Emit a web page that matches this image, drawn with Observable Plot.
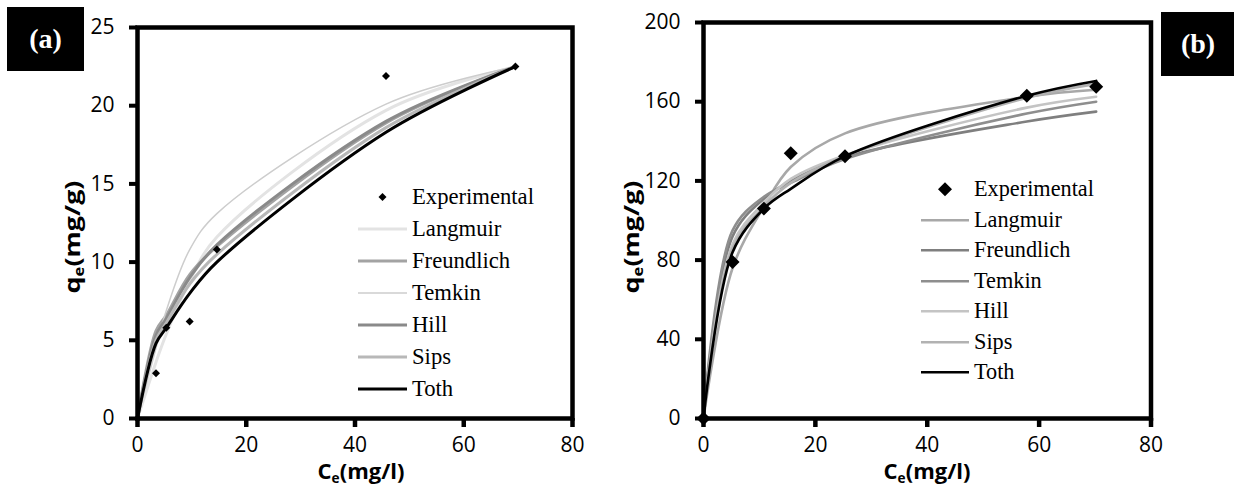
<!DOCTYPE html>
<html><head><meta charset="utf-8">
<script src="https://cdn.jsdelivr.net/npm/d3@7"></script>
<script src="https://cdn.jsdelivr.net/npm/@observablehq/plot@0.6"></script>
<style>
html,body{margin:0;padding:0;background:#fff;}
#root{position:relative;width:1234px;height:488px;overflow:hidden;background:#fff;}
.panel{position:absolute;top:0;}
.tag{position:absolute;background:#000;color:#fff;font-weight:bold;font-size:28px;font-family:"Liberation Serif","Times New Roman",Times,serif;display:flex;align-items:center;justify-content:center;}
.ytitle{position:absolute;font-weight:bold;font-size:22px;font-family:"Open Sans",sans-serif;white-space:nowrap;line-height:0.8;transform:translate(-50%,-50%) rotate(-90deg) scaleX(1.22);}
.xtitle{position:absolute;font-weight:bold;font-size:22px;font-family:"Open Sans",sans-serif;white-space:nowrap;line-height:0.8;transform:translate(-50%,-50%);}
.ytitle sub,.xtitle sub{font-size:0.62em;vertical-align:-0.25em;line-height:0;}
.legend{position:absolute;font-family:"Liberation Serif","Times New Roman",Times,serif;color:#000;}
.row{display:flex;align-items:center;white-space:nowrap;}
.row svg{flex:none;}
</style>
</head><body><div id="root"></div>
<script>
// ---------- data ----------
const seriesNames = ["Langmuir", "Freundlich", "Temkin", "Hill", "Sips", "Toth"];
const xTicks = [0, 20, 40, 60, 80];
const yTicksA = [0, 5, 10, 15, 20, 25];
const yTicksB = [0, 40, 80, 120, 160, 200];

// panel (a)
const ceA = [0, 3.4, 5.3, 9.6, 14.6, 45.7, 69.5];
const expA = [0, 2.9, 5.8, 6.2, 10.8, 21.9, 22.5];
const langmuirA = [0, 3.6, 5.4, 8.8, 11.6, 19.7, 22.5];
const freundlichA = [0, 5.6, 6.6, 9.2, 11.0, 18.9, 22.5];
const temkinA = [0, 4.5, 6.9, 10.8, 13.1, 20.1, 22.5];
const hillA = [0, 5.3, 6.4, 9.0, 11.1, 19.0, 22.5];
const sipsA = [0, 5.0, 6.1, 8.6, 10.5, 18.6, 22.5];
const tothA = [0, 4.8, 5.8, 8.0, 10.0, 18.3, 22.5];

// panel (b)
const ceB = [0, 5.2, 10.8, 15.6, 25.3, 57.8, 70.2];
const expB = [0, 79, 106, 134, 132.5, 163, 167.5];
const langmuirB = [0, 76, 107, 127, 144, 162.5, 166];
const freundlichB = [0, 92, 111, 120, 132, 150, 155];
const temkinB = [0, 95, 112, 119, 131, 154, 160];
const hillB = [0, 88, 109, 121, 133, 157, 162.5];
const sipsB = [0, 86, 107, 119, 132.5, 162, 169];
const tothB = [0, 84, 106, 116, 132.5, 163, 170.5];

// ---------- styles ----------
const styleA = {
  colors: ["#e3e3e3", "#a3a3a3", "#cdcdcd", "#8a8a8a", "#b8b8b8", "#000000"],
  widths: [3, 3, 1.5, 3, 3, 3]
};
const styleB = {
  colors: ["#a8a8a8", "#7f7f7f", "#8e8e8e", "#c4c4c4", "#b2b2b2", "#000000"],
  widths: [2.6, 2.6, 2.6, 2.6, 2.6, 2.6]
};

function makePanel(ce, exp, fits, yDomain, yTicks, st, r, mL, mR, mT) {
  const rows = [];
  seriesNames.forEach((name, i) => fits[i].forEach((q, j) => rows.push({model: name, ce: ce[j], qe: q})));
  const pts = ce.map((c, j) => ({ce: c, qe: exp[j]}));
  return Plot.plot({
    width: 617, height: 488,
    marginLeft: mL, marginRight: mR, marginTop: mT, marginBottom: 70,
    style: {fontFamily: "'Open Sans', sans-serif", fontSize: "21px", color: "#000", background: "transparent", overflow: "visible"},
    x: {domain: [0, 80], ticks: xTicks},
    y: {domain: yDomain, ticks: yTicks},
    marks: [
      ...seriesNames.map((name, i) => Plot.line(rows.filter(d => d.model === name), {
        x: "ce", y: "qe", stroke: st.colors[i], strokeWidth: st.widths[i], curve: "catmull-rom"
      })),
      Plot.dot(pts, {x: "ce", y: "qe", symbol: "diamond2", r, fill: "#000", stroke: "none"}),
      Plot.frame({stroke: "#000", strokeWidth: 4.5}),
      Plot.axisX({ticks: xTicks, tickSize: 9, tickPadding: 10, strokeWidth: 4.5, label: null}),
      Plot.axisY({ticks: yTicks, tickSize: 8, tickPadding: 15, strokeWidth: 4, label: null})
    ]
  });
}

function makeLegend(left, top, step, targetWidth, sw, st, dHalf) {
  const div = document.createElement("div");
  div.className = "legend";
  div.style.left = left + "px";
  div.style.top = top + "px";
  div.style.fontSize = "24px";
  const items = [{label: "Experimental", marker: true}].concat(
    seriesNames.map((n, i) => ({label: n, color: st.colors[i], width: st.widths[i]})));
  const ns = "http://www.w3.org/2000/svg";
  let first = null;
  for (const it of items) {
    const row = document.createElement("div");
    row.className = "row";
    row.style.height = step + "px";
    const svg = document.createElementNS(ns, "svg");
    svg.setAttribute("width", sw);
    svg.setAttribute("height", step);
    svg.style.marginRight = "5px";
    const cy = step / 2, cx = sw / 2;
    if (it.marker) {
      const p = document.createElementNS(ns, "path");
      p.setAttribute("d", `M${cx},${cy - dHalf}L${cx + dHalf},${cy}L${cx},${cy + dHalf}L${cx - dHalf},${cy}Z`);
      p.setAttribute("fill", "#000");
      svg.appendChild(p);
    } else {
      const l = document.createElementNS(ns, "line");
      l.setAttribute("x1", 0); l.setAttribute("x2", sw);
      l.setAttribute("y1", cy); l.setAttribute("y2", cy);
      l.setAttribute("stroke", it.color);
      l.setAttribute("stroke-width", it.width);
      svg.appendChild(l);
    }
    row.appendChild(svg);
    const span = document.createElement("span");
    span.textContent = it.label;
    row.appendChild(span);
    if (!first) first = span;
    div.appendChild(row);
  }
  root.appendChild(div);
  // fit the font so that "Experimental" has the reference width
  const w = first.getBoundingClientRect().width;
  if (w > 0) div.style.fontSize = (24 * targetWidth / w).toFixed(2) + "px";
  return div;
}

function addDiv(cls, html, css) {
  const d = document.createElement("div");
  d.className = cls;
  d.innerHTML = html;
  Object.assign(d.style, css);
  root.appendChild(d);
  return d;
}

const root = document.getElementById("root");

const pA = makePanel(ceA, expA, [langmuirA, freundlichA, temkinA, hillA, sipsA, tothA],
  [0, 25], yTicksA, styleA, 3.6, 137, 45, 27);
pA.classList.add("panel"); pA.style.left = "0px";
root.appendChild(pA);

const pB = makePanel(ceB, expB, [langmuirB, freundlichB, temkinB, hillB, sipsB, tothB],
  [0, 200], yTicksB, styleB, 6.3, 86, 83.5, 22);
pB.classList.add("panel"); pB.style.left = "617px";
root.appendChild(pB);

makeLegend(358, 180.7, 32.1, 122, 49, styleA, 4);
makeLegend(921, 174, 30.5, 120, 48, styleB, 7);

addDiv("tag", "(a)", {left: "7px", top: "7px", width: "77px", height: "64px"});
addDiv("tag", "(b)", {left: "1161px", top: "12px", width: "74px", height: "64px"});

addDiv("ytitle", "q<sub>e</sub>(mg/g)", {left: "72px", top: "237px"});
addDiv("ytitle", "q<sub>e</sub>(mg/g)", {left: "631px", top: "237px"});
addDiv("xtitle", "C<sub>e</sub>(mg/l)", {left: "361px", top: "471px"});
addDiv("xtitle", "C<sub>e</sub>(mg/l)", {left: "927px", top: "471px"});
</script>
</body></html>
